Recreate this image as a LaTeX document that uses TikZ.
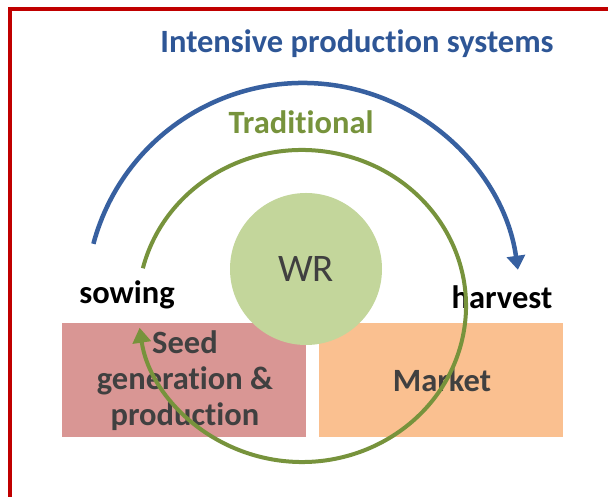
\documentclass[tikz,border=0pt]{standalone}
\usepackage{fontspec}
\setmainfont{Carlito}[Ligatures=NoCommon]
\usetikzlibrary{arrows.meta}
\definecolor{framered}{RGB}{192,0,0}
\definecolor{titleblue}{RGB}{46,86,150}
\definecolor{arcblue}{RGB}{55,96,160}
\definecolor{olive}{RGB}{119,147,60}
\definecolor{wrfill}{RGB}{195,214,155}
\definecolor{pinkfill}{RGB}{217,150,148}
\definecolor{orangefill}{RGB}{250,192,144}
\definecolor{darktext}{RGB}{64,64,64}
\tikzset{
  bigtext/.style={font=\fontsize{32.5}{36}\selectfont\bfseries, inner sep=0pt},
  boxtext/.style={font=\fontsize{32.5}{36}\selectfont\bfseries, text=darktext, align=center, inner sep=0pt},
  blockbox/.style={draw=none, minimum width=244pt, minimum height=114pt, inner sep=0pt},
  bluearc/.style={draw=arcblue, line width=4.5pt, -{Triangle[length=14pt,width=18pt]}},
  greenarc/.style={draw=olive, line width=4pt, -{Triangle[length=15pt,width=18pt]}},
}
\begin{document}
\begin{tikzpicture}[x=1pt,y=1pt]
\useasboundingbox (0,0) rectangle (608,497);
\fill[white] (0,0) rectangle (608,497);
\draw[framered, line width=4pt] (10,-10) -- (10,488) -- (620,488);
% blocks
\node[blockbox, fill=pinkfill, anchor=south west] (seedbox) at (62,60) {};
\node[blockbox, fill=orangefill, anchor=south west] (marketbox) at (319,60) {};
\node[boxtext] (seedtext) at (185,116) {Seed\\generation \&\\production};
\node[boxtext] (markettext) at (442,117) {Market};
% WR circle
\node[circle, fill=wrfill, minimum size=152pt, inner sep=0pt] (wr) at (306,228) {};
\node[font=\fontsize{39}{40}\selectfont, text=darktext, inner sep=0pt] (wrtext) at (wr.center) {WR};
% labels
\node[bigtext, text=titleblue] (title) at (357,453) {Intensive production systems};
\node[bigtext, text=olive] (trad) at (301,375) {Traditional};
\node[bigtext] (sowing) at (127,202) {sowing};
\node[bigtext] (harvest) at (502,200) {harvest};
% arcs
\coordinate (bluecentre) at (303,197);
\coordinate (greencentre) at (302,191);
\draw[bluearc] ([shift={(165:217)}]bluecentre) arc[start angle=165, end angle=8, radius=217];
\draw[greenarc] ([shift={(166:164 and 156)}]greencentre) arc[start angle=166, end angle=-172, x radius=164, y radius=156];
\end{tikzpicture}
\end{document}
